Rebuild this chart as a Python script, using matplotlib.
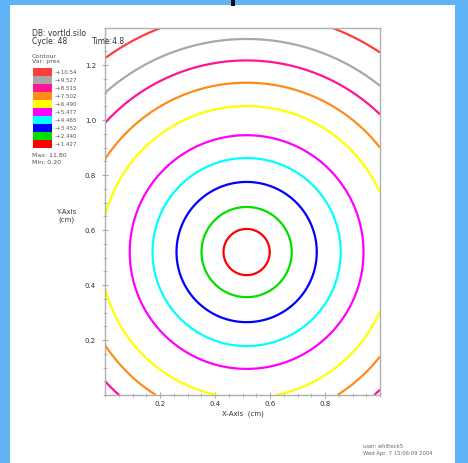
import numpy as np
import matplotlib
matplotlib.use("Agg")
import matplotlib.pyplot as plt
from matplotlib.patches import Rectangle

# contour data (distance from centre, data units)
center_x = 0.515
center_y = 0.52
radii = [0.084, 0.164, 0.255, 0.342, 0.425, 0.531, 0.616, 0.697, 0.775, 0.873]
line_colors = ["#ff0000", "#00e000", "#0000ff", "#00ffff", "#ff00ff",
               "#ffff00", "#ff8c1a", "#ff1493", "#a8a8a8", "#ff3c3c"]

# legend (top to bottom)
legend_labels = ["+10.54", "+9.527", "+8.515", "+7.502", "+6.490",
                 "+5.477", "+4.465", "+3.452", "+2.440", "+1.427"]
legend_colors = line_colors[::-1]

x_ticks = [0.2, 0.4, 0.6, 0.8]
y_ticks = [0.2, 0.4, 0.6, 0.8, 1.0, 1.2]

W, H = 468, 463
fig = plt.figure(figsize=(W / 100, H / 100), dpi=100)
fig.patch.set_facecolor("#5fb4f5")

# white panel
fig.patches.append(Rectangle((10 / W, 0), 445 / W, 1 - 5 / H,
                             transform=fig.transFigure, facecolor="white",
                             edgecolor="none", zorder=-10))
# little black mark at the top
fig.patches.append(Rectangle((231 / W, 1 - 6 / H), 4 / W, 6 / H,
                             transform=fig.transFigure, facecolor="black",
                             edgecolor="none", zorder=-5))

ax = fig.add_axes([105 / W, 1 - 395 / H, 275 / W, 367 / H], zorder=1)
ax.set_facecolor("none")
xx, yy = np.meshgrid(np.linspace(0, 1, 500), np.linspace(0, 1.335, 600))
dist = np.hypot(xx - center_x, yy - center_y)
ax.contour(xx, yy, dist, levels=radii, colors=line_colors, linewidths=1.6)

ax.set_xlim(0, 1)
ax.set_ylim(0, 1.335)
ax.set_xticks(x_ticks)
ax.set_yticks(y_ticks)
ax.set_xticklabels([f"{v:.1f}" for v in x_ticks])
ax.set_yticklabels([f"{v:.1f}" for v in y_ticks])
ax.minorticks_on()
ax.tick_params(which="both", direction="inout", color="#aaaaaa",
               labelsize=5, labelcolor="#333333")
ax.tick_params(which="major", length=5)
ax.tick_params(which="minor", length=3)
ax.tick_params(axis="x", which="major", pad=2)
ax.tick_params(axis="y", which="major", pad=4)
for s in ax.spines.values():
    s.set_color("#b0b0b0")
    s.set_linewidth(1)

fig.text(243 / W, 1 - 414 / H, "X-Axis  (cm)", fontsize=5, color="#333333",
         ha="center", va="center")
fig.text(66 / W, 1 - 216 / H, "Y-Axis\n(cm)", fontsize=5, color="#333333",
         ha="center", va="center", linespacing=1.4)

# header text
fig.text(32 / W, 1 - 33 / H, "DB: vortld.silo", fontsize=5.5, color="#333333",
         va="center", zorder=3)
fig.text(32 / W, 1 - 42 / H, "Cycle: 48", fontsize=5.5, color="#333333",
         va="center", zorder=3)
fig.text(92 / W, 1 - 42 / H, "Time:4.8", fontsize=5.5, color="#333333",
         va="center", zorder=3)
fig.text(32 / W, 1 - 56 / H, "Contour", fontsize=4.5, color="#555555",
         va="center")
fig.text(32 / W, 1 - 62 / H, "Var: pres", fontsize=4.5, color="#555555",
         va="center")

# legend bars
lax = fig.add_axes([33 / W, 1 - 148 / H, 19 / W, 80 / H], zorder=1)
lax.bar([0] * len(legend_colors), [1] * len(legend_colors),
        bottom=np.arange(len(legend_colors))[::-1], color=legend_colors,
        width=1, align="edge")
lax.set_xlim(0, 1)
lax.set_ylim(0, len(legend_colors))
lax.axis("off")
for i, lab in enumerate(legend_labels):
    fig.text(55 / W, 1 - (72 + 8 * i) / H, "-" + lab, fontsize=4,
             color="#555555", va="center")

fig.text(32 / W, 1 - 155 / H, "Max: 11.80", fontsize=4.5, color="#555555",
         va="center")
fig.text(32 / W, 1 - 162 / H, "Min: 0.20", fontsize=4.5, color="#555555",
         va="center")

# footer
fig.text(363 / W, 1 - 447 / H, "user: whitlock5", fontsize=3.8,
         color="#666666", va="center")
fig.text(363 / W, 1 - 454 / H, "Wed Apr  7 15:06:09 2004", fontsize=3.8,
         color="#666666", va="center")

fig.savefig("out.png", dpi=100)
